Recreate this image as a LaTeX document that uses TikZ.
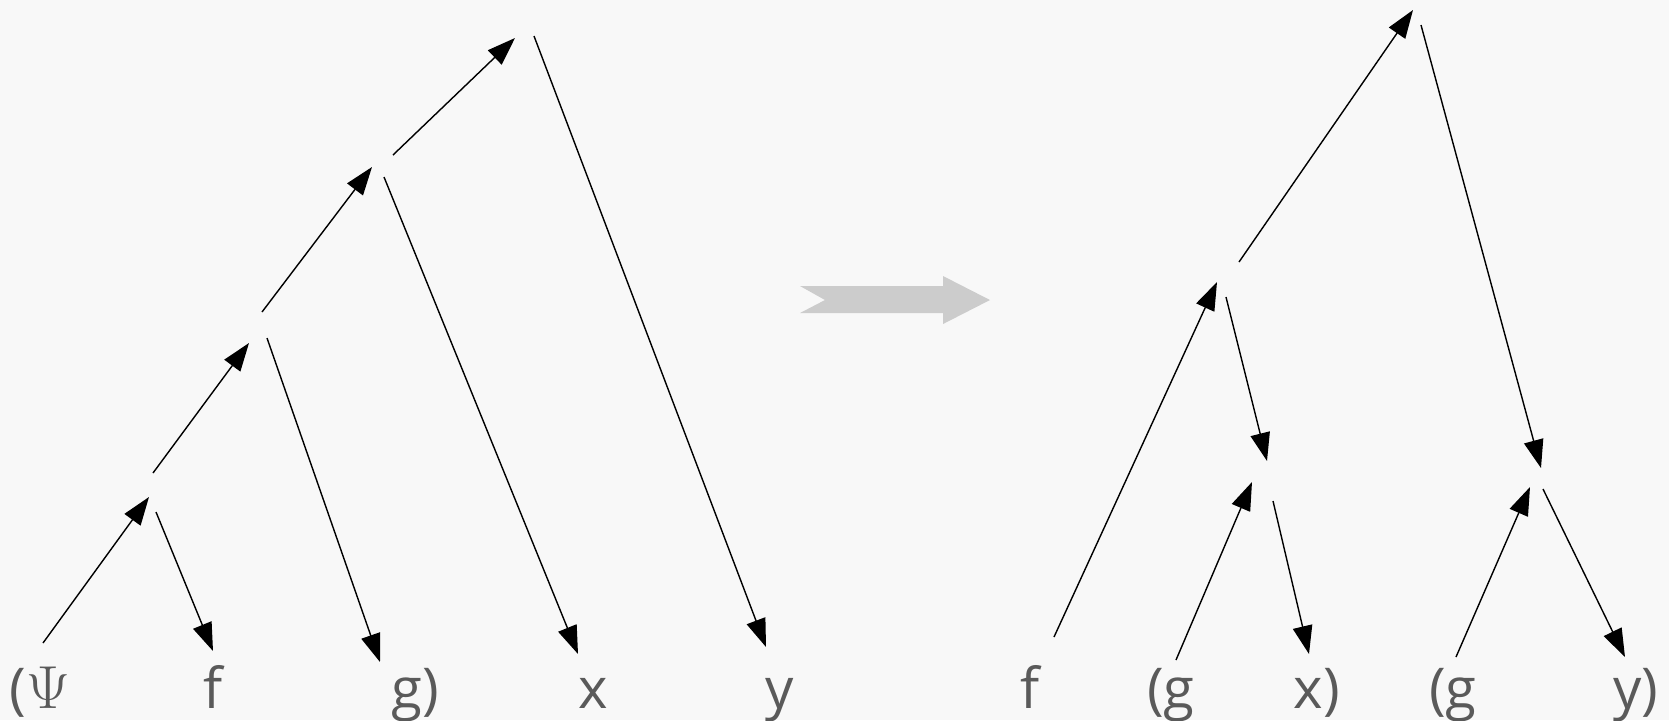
\documentclass[tikz,border=0pt]{standalone}
\usepackage{fontspec}
\setmainfont{Open Sans}
\usetikzlibrary{arrows.meta}
\definecolor{sfondo}{HTML}{F8F8F8}
\definecolor{testo}{HTML}{5A5A5A}
\definecolor{grigio}{HTML}{CCCCCC}
\tikzset{
  ramo/.style={line width=0.4pt},
  freccia/.style={ramo,-{Triangle[length=8pt,width=5.6pt]}},
  etichetta/.style={anchor=base,text=testo,inner sep=0pt,font=\fontsize{16}{19}\selectfont}
}
\begin{document}
\begin{tikzpicture}[x=0.01cm,y=-0.01cm]
\useasboundingbox (0,0) rectangle (1669,720);
\fill[sfondo] (0,0) rectangle (1669,720);
%albero sinistro: estremi dei rami
\coordinate (psi) at (43,643);
\coordinate (f1) at (213,651);
\coordinate (g1) at (380,662);
\coordinate (x1) at (578,654);
\coordinate (y1) at (766,647);
%nodi interni
\coordinate (a-in) at (149,497);
\coordinate (a-su) at (153,473);
\coordinate (a-giu) at (156,512);
\coordinate (b-in) at (249,343);
\coordinate (b-su) at (262,312);
\coordinate (b-giu) at (267,338);
\coordinate (c-in) at (372,167);
\coordinate (c-su) at (393,155);
\coordinate (c-giu) at (384,177);
\coordinate (d-in) at (515,38);
\coordinate (d-giu) at (534,36);
%rami
\draw[freccia] (psi)--(a-in);
\draw[freccia] (a-giu)--(f1);
\draw[freccia] (a-su)--(b-in);
\draw[freccia] (b-giu)--(g1);
\draw[freccia] (b-su)--(c-in);
\draw[freccia] (c-giu)--(x1);
\draw[freccia] (c-su)--(d-in);
\draw[freccia] (d-giu)--(y1);
%freccia grigia
\fill[grigio] (800,286)--(943,286)--(943,276)--(990,300)--(943,324)--(943,313)--(800,313)--(825,300)--cycle;
%albero destro: estremi dei rami
\coordinate (f2) at (1054,637);
\coordinate (g2) at (1176,660);
\coordinate (x2) at (1309,654);
\coordinate (g3) at (1456,657);
\coordinate (y2) at (1625,657);
%nodi interni
\coordinate (r-in) at (1413,10);
\coordinate (r-giu) at (1421,25);
\coordinate (p-in) at (1217,282);
\coordinate (p-su) at (1239,262);
\coordinate (p-giu) at (1226,297);
\coordinate (q-in) at (1267,461);
\coordinate (q-sx) at (1252,482);
\coordinate (q-giu) at (1273,501);
\coordinate (s-in) at (1541,468);
\coordinate (s-sx) at (1530,487);
\coordinate (s-giu) at (1543,489);
%rami
\draw[freccia] (f2)--(p-in);
\draw[freccia] (p-su)--(r-in);
\draw[freccia] (p-giu)--(q-in);
\draw[freccia] (g2)--(q-sx);
\draw[freccia] (q-giu)--(x2);
\draw[freccia] (r-giu)--(s-in);
\draw[freccia] (g3)--(s-sx);
\draw[freccia] (s-giu)--(y2);
%etichette
\node[etichetta] (tpsi) at (40,708) {($\Psi$};
\node[etichetta] (tf1) at (213,708) {f};
\node[etichetta] (tg1) at (415,708) {g)};
\node[etichetta] (tx1) at (593,708) {x};
\node[etichetta] (ty1) at (780,708) {y};
\node[etichetta] (tf2) at (1030,708) {f};
\node[etichetta] (tg2) at (1171,708) {(g};
\node[etichetta] (tx2) at (1317,708) {x)};
\node[etichetta] (tg3) at (1453,708) {(g};
\node[etichetta] (ty2) at (1636,708) {y)};
\end{tikzpicture}
\end{document}
